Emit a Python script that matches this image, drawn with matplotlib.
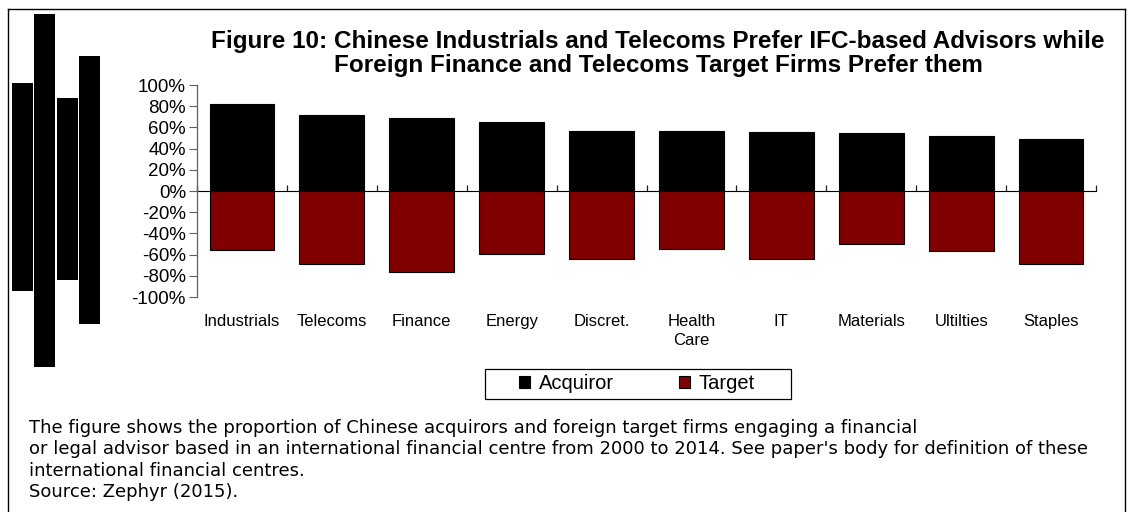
import matplotlib
matplotlib.use("Agg")
import matplotlib.pyplot as plt
from matplotlib.patches import Rectangle, Patch
from matplotlib.lines import Line2D
from matplotlib.ticker import FuncFormatter
import numpy as np

plt.rcParams['font.family'] = ['Liberation Sans', 'DejaVu Sans']

categories = ["Industrials", "Telecoms", "Finance", "Energy", "Discret.",
              "Health\nCare", "IT", "Materials", "Ultilties", "Staples"]
acquiror = [0.82, 0.72, 0.69, 0.65, 0.57, 0.57, 0.56, 0.55, 0.52, 0.49]
target = [-0.56, -0.69, -0.76, -0.59, -0.64, -0.55, -0.64, -0.50, -0.57, -0.69]
y_ticks = [-1.0, -0.8, -0.6, -0.4, -0.2, 0.0, 0.2, 0.4, 0.6, 0.8, 1.0]
series_names = ["Acquiror", "Target"]
series_colors = ["#000000", "#800000"]

title_lines = ["Figure 10: Chinese Industrials and Telecoms Prefer IFC-based Advisors while",
               "Foreign Finance and Telecoms Target Firms Prefer them"]
caption_lines = [
    "The figure shows the proportion of Chinese acquirors and foreign target firms engaging a financial",
    "or legal advisor based in an international financial centre from 2000 to 2014. See paper's body for definition of these",
    "international financial centres.",
    "Source: Zephyr (2015).",
]

W, H = 1131, 512
fig = plt.figure(figsize=(W / 100, H / 100), dpi=100)

def fx(px):
    return px / W

def fy(py):
    return 1 - py / H

# frame around the figure
fig.add_artist(Line2D([fx(7.5), fx(7.5)], [fy(8.5), 0], color="#000000", lw=1.0))
fig.add_artist(Line2D([fx(7.5), fx(1124.5)], [fy(8.5), fy(8.5)], color="#000000", lw=1.0))
fig.add_artist(Line2D([fx(1124.5), fx(1124.5)], [fy(8.5), 0], color="#000000", lw=1.0))

# decorative black blocks at the left (artifact of the original page)
artifact_blocks = [(12, 83, 21, 208), (34, 14, 21, 353), (57, 98, 21, 182), (79, 56, 21, 268)]
for (bx, by, bw, bh) in artifact_blocks:
    fig.add_artist(Rectangle((fx(bx), fy(by + bh)), bw / W, bh / H,
                             transform=fig.transFigure, facecolor="black", edgecolor="none"))

ax = fig.add_axes([fx(197), fy(297), fx(1096) - fx(197), fy(85) - fy(297)])
x = np.arange(len(categories))
ax.bar(x, acquiror, width=0.72, color=series_colors[0], edgecolor="#000000", linewidth=0.8,
       label=series_names[0])
ax.bar(x, target, width=0.72, color=series_colors[1], edgecolor="#000000", linewidth=0.8,
       label=series_names[1])

ax.set_xlim(-0.5, len(categories) - 0.5)
ax.set_ylim(-1.0, 1.0)
ax.set_yticks(y_ticks)
ax.yaxis.set_major_formatter(FuncFormatter(lambda v, p: f"{v * 100:.0f}%"))
ax.tick_params(axis="y", direction="out", length=6, width=0.8, color="#606060",
               labelsize=13.5, pad=2, labelcolor="#000000")
ax.set_xticks(x)
ax.set_xticklabels(categories, fontsize=12, linespacing=1.35)
ax.tick_params(axis="x", length=0, pad=12, labelcolor="#000000")

for s in ["top", "right", "bottom"]:
    ax.spines[s].set_visible(False)
ax.spines["left"].set_color("#606060")
ax.spines["left"].set_linewidth(0.9)

# category axis line at zero, with boundary ticks
sec = ax.secondary_xaxis(0.5)
sec.set_xticks(np.arange(len(categories) + 1) - 0.5)
sec.set_xticklabels([])
sec.tick_params(direction="out", length=4, width=0.9, color="#202020")
sec.spines["bottom"].set_color("#606060")
sec.spines["bottom"].set_linewidth(0.9)
ax.set_zorder(1)

# title
fig.text(fx(658), fy(48), title_lines[0], ha="center", va="baseline",
         fontsize=17.5, fontweight="bold")
fig.text(fx(658), fy(72), title_lines[1], ha="center", va="baseline",
         fontsize=17.5, fontweight="bold")

# legend (contents) with a separate rectangular frame
fig.add_artist(Rectangle((fx(484.5), fy(398.5)), 306 / W, 30 / H, transform=fig.transFigure,
                         facecolor="white", edgecolor="#000000", linewidth=0.9))
handles = [Patch(facecolor=c, edgecolor="#000000", linewidth=0.8) for c in series_colors]
leg = fig.legend(handles, series_names, loc="center left", bbox_to_anchor=(fx(519), fy(383.5)),
                 ncol=2, frameon=False, fontsize=14.5,
                 handlelength=0.55, handleheight=0.55, handletextpad=0.45,
                 columnspacing=3.2, borderpad=0, borderaxespad=0)

# caption
for i, line in enumerate(caption_lines):
    fig.text(fx(29), fy(433 + i * 21.3), line, ha="left", va="baseline", fontsize=13,
             family=["DejaVu Sans"])

fig.savefig("out.png", dpi=100)
